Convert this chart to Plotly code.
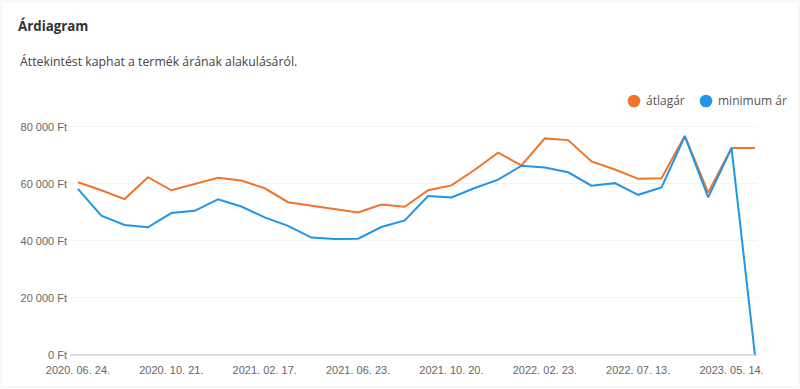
import plotly.graph_objects as go

dates = [
    "2020. 06. 24.", "2020. 07. 22.", "2020. 08. 19.", "2020. 09. 16.",
    "2020. 10. 21.", "2020. 11. 18.", "2020. 12. 16.", "2021. 01. 20.",
    "2021. 02. 17.", "2021. 03. 17.", "2021. 04. 21.", "2021. 05. 19.",
    "2021. 06. 23.", "2021. 07. 21.", "2021. 08. 18.", "2021. 09. 22.",
    "2021. 10. 20.", "2021. 11. 17.", "2021. 12. 22.", "2022. 01. 19.",
    "2022. 02. 23.", "2022. 03. 23.", "2022. 04. 20.", "2022. 05. 18.",
    "2022. 07. 13.", "2022. 09. 14.", "2022. 11. 16.", "2023. 02. 15.",
    "2023. 05. 14.", "2023. 06. 14.",
]

avg_price = [
    60500, 57700, 54600, 62300, 57700, 60000, 62100, 61100, 58400, 53500,
    52300, 50900, 49900, 52700, 51900, 57700, 59400, 64900, 70900, 66400,
    75900, 75300, 67800, 65000, 61700, 61900, 76800, 56900, 72500, 72500,
]

min_price = [
    58200, 48800, 45500, 44700, 49700, 50500, 54500, 52000, 48200, 45200,
    41100, 40600, 40700, 44800, 47100, 55700, 55200, 58500, 61400, 66300,
    65700, 64000, 59300, 60200, 56100, 58700, 76600, 55200, 72500, 0,
]

y_ticks = [0, 20000, 40000, 60000, 80000]
y_tick_text = ["0 Ft", "20 000 Ft", "40 000 Ft", "60 000 Ft", "80 000 Ft"]

series_names = ["átlagár", "minimum ár"]
colors = ["#f0742a", "#2196e6"]
legend_x = [634, 706]   # circle centres, pixels

L, R, T, B = 70, 43, 121, 32
W, H = 800, 389
pw, ph = W - L - R, H - T - B


def px_x(x):
    return (x - L) / pw


def px_y(y):
    return (H - B - y) / ph


fig = go.Figure()
for name, vals, col in zip(series_names, [avg_price, min_price], colors):
    fig.add_trace(go.Scatter(x=dates, y=vals, mode="lines", name=name,
                             line=dict(color=col, width=2), showlegend=False,
                             hoverinfo="x+y"))

shapes = [dict(type="rect", xref="paper", yref="paper", x0=px_x(1), x1=px_x(799),
               y0=px_y(387), y1=px_y(1), line=dict(color="#eeeeee", width=1),
               layer="below")]
annotations = [dict(text="Áttekintést kaphat a termék árának alakulásáról.",
                    xref="paper", yref="paper", x=px_x(18), y=px_y(61),
                    xanchor="left", yanchor="middle", showarrow=False,
                    font=dict(family="Open Sans, sans-serif", size=12.3, color="#444"))]
for name, col, cx in zip(series_names, colors, legend_x):
    shapes.append(dict(type="circle", xref="paper", yref="paper",
                       xsizemode="pixel", ysizemode="pixel",
                       xanchor=px_x(cx), yanchor=px_y(101),
                       x0=-6.3, x1=6.3, y0=-6.3, y1=6.3,
                       fillcolor=col, line=dict(width=0)))
    annotations.append(dict(text=name, xref="paper", yref="paper",
                            x=px_x(cx + 10), y=px_y(100.5), xanchor="left",
                            yanchor="middle", showarrow=False,
                            font=dict(family="Open Sans, sans-serif", size=12, color="#555")))

fig.update_layout(
    width=W, height=H,
    margin=dict(l=L, r=R, t=T, b=B, pad=0),
    paper_bgcolor="white", plot_bgcolor="white",
    font=dict(family="Open Sans, sans-serif", color="#555"),
    title=dict(text="<b>Árdiagram</b>", x=18 / W, xanchor="left", xref="container",
               y=1 - 26 / H, yanchor="middle", yref="container",
               font=dict(family="Open Sans, sans-serif", size=13.3, color="#333")),
    showlegend=False,
    xaxis=dict(type="category", range=[-0.34, 29.09], showgrid=False, zeroline=False,
               showline=False, ticks="", tickvals=dates[::4], ticktext=dates[::4],
               tickangle=0, ticklabelstandoff=5,
               tickfont=dict(family="Liberation Sans, Arial, sans-serif", size=11, color="#666")),
    yaxis=dict(range=[-800, 82000], tickvals=y_ticks, ticktext=y_tick_text,
               showgrid=True, gridcolor="#f3f3f3", gridwidth=1,
               zeroline=True, zerolinecolor="#dddddd", zerolinewidth=2,
               showline=False, ticks="", ticklabelstandoff=2,
               tickfont=dict(family="Liberation Sans, Arial, sans-serif", size=11, color="#666")),
    annotations=annotations,
    shapes=shapes,
)

fig.write_html("out.html", config={"displayModeBar": False},
               post_script="document.body.style.margin='0';document.body.style.overflow='hidden';")
